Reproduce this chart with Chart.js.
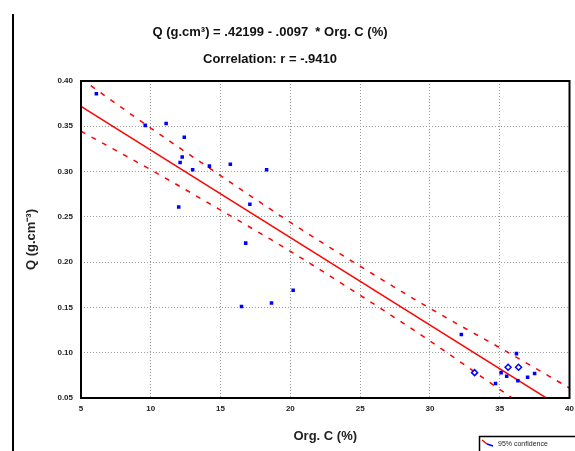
<!DOCTYPE html>
<html>
<head>
<meta charset="utf-8">
<script src="https://cdn.jsdelivr.net/npm/chart.js@4.4.0/dist/chart.umd.min.js"></script>
<style>
  html, body { margin: 0; padding: 0; background: #fff; }
  canvas { display: block; }
</style>
</head>
<body>
<canvas id="chart" width="575" height="451"></canvas>
<script>
// observed samples (Org. C %, Q g.cm-3)
const orgC = [6.1, 9.6, 11.1, 12.4, 12.25, 12.1, 13.0, 14.2, 15.7, 18.3, 12.0, 17.1, 16.8, 20.2, 16.5, 18.65,
    32.25, 36.2, 35.1, 35.5, 36.3, 37.0, 37.5, 34.7];
const qVals = [0.386, 0.351, 0.353, 0.338, 0.316, 0.310, 0.302, 0.306, 0.308, 0.302, 0.261, 0.264, 0.221, 0.169, 0.151, 0.155,
    0.120, 0.099, 0.078, 0.074, 0.069, 0.073, 0.077, 0.066];
// open markers
const hollowC = [33.2, 35.6, 36.35];
const hollowQ = [0.078, 0.084, 0.084];

// regression line  Q = .42199 - .0097 * C
const fitC = [5, 40];
const fitQ = [0.372, 0.034];

// 95% confidence band
const bandC = [5, 10, 15, 20, 25, 30, 35, 40];
const upperQ = [0.4025, 0.348, 0.2955, 0.244, 0.1955, 0.149, 0.1055, 0.061];
const lowerQ = [0.3445, 0.302, 0.2575, 0.212, 0.1635, 0.113, 0.0595, 0.007];

const titleLines = ['Q (g.cm\u00B3) = .42199 - .0097  * Org. C (%)', 'Correlation: r = -.9410'];
const legendText = '95% confidence';

const toXY = (xs, ys) => xs.map((x, i) => ({ x: x, y: ys[i] }));

const frame = {
    id: 'frame',
    afterDatasetsDraw(chart) {
        const { ctx, chartArea: a } = chart;
        ctx.save();
        ctx.strokeStyle = '#000';
        ctx.lineWidth = 2;
        ctx.strokeRect(a.left, a.top, a.right - a.left, a.bottom - a.top);
        ctx.restore();
    },
    afterDraw(chart) {
        const ctx = chart.ctx;
        ctx.save();
        // left page rule
        ctx.strokeStyle = '#000';
        ctx.lineWidth = 2;
        ctx.beginPath();
        ctx.moveTo(13, 14);
        ctx.lineTo(13, 451);
        ctx.stroke();

        // title
        ctx.fillStyle = '#111';
        ctx.font = 'bold 13px "Liberation Sans", Arial, sans-serif';
        ctx.textAlign = 'center';
        ctx.textBaseline = 'middle';
        ctx.fillText(titleLines[0], 270, 32);
        ctx.fillText(titleLines[1], 270, 59);

        // legend box (clipped at the page edge)
        ctx.lineWidth = 1.5;
        ctx.strokeRect(479.5, 436.5, 110, 20);
        ctx.strokeStyle = '#f00';
        ctx.lineWidth = 1.5;
        ctx.beginPath();
        ctx.moveTo(482, 440);
        ctx.lineTo(487, 444);
        ctx.stroke();
        ctx.strokeStyle = '#00f';
        ctx.beginPath();
        ctx.moveTo(487, 444);
        ctx.lineTo(493, 446);
        ctx.stroke();
        ctx.fillStyle = '#222';
        ctx.font = '7px "Liberation Sans", Arial, sans-serif';
        ctx.textAlign = 'left';
        ctx.fillText(legendText, 498, 444);
        ctx.restore();
    }
};

new Chart(document.getElementById('chart'), {
    type: 'scatter',
    data: {
        datasets: [
            {
                data: toXY(orgC, qVals),
                pointStyle: 'rect',
                pointRadius: 2.5,
                backgroundColor: '#0000ff',
                borderColor: '#0000ff',
                borderWidth: 0,
                order: 0
            },
            {
                data: toXY(hollowC, hollowQ),
                pointStyle: 'rectRot',
                pointRadius: 3,
                pointBackgroundColor: '#fff',
                pointBorderColor: '#0000ff',
                pointBorderWidth: 1.5,
                order: 0
            },
            {
                type: 'line',
                data: toXY(fitC, fitQ),
                borderColor: '#ff0000',
                borderWidth: 1.5,
                pointRadius: 0,
                order: 1
            },
            {
                type: 'line',
                data: toXY(bandC, upperQ),
                borderColor: '#ff0000',
                borderWidth: 1.5,
                borderDash: [5, 7],
                cubicInterpolationMode: 'monotone',
                pointRadius: 0,
                order: 1
            },
            {
                type: 'line',
                data: toXY(bandC, lowerQ),
                borderColor: '#ff0000',
                borderWidth: 1.5,
                borderDash: [5, 7],
                cubicInterpolationMode: 'monotone',
                pointRadius: 0,
                order: 1
            }
        ]
    },
    options: {
        responsive: false,
        animation: false,
        devicePixelRatio: 1,
        layout: {
            padding: { left: 0, right: 0, top: 81, bottom: 0 }
        },
        plugins: {
            legend: { display: false },
            tooltip: { enabled: false },
            title: { display: false }
        },
        scales: {
            x: {
                type: 'linear',
                min: 5,
                max: 40,
                afterFit: (scale) => { scale.height = 53; scale.paddingRight = 5; },
                ticks: {
                    stepSize: 5,
                    padding: 6,
                    color: '#222',
                    font: { size: 8, weight: 'bold', family: '"Liberation Sans", Arial, sans-serif' }
                },
                grid: { color: '#9a9a9a', drawTicks: false },
                border: { display: false, dash: [1, 2] },
                title: {
                    display: true,
                    text: 'Org. C (%)',
                    color: '#222',
                    font: { size: 13, weight: 'bold', family: '"Liberation Sans", Arial, sans-serif' },
                    padding: { top: 0, bottom: 7 }
                }
            },
            y: {
                type: 'linear',
                min: 0.05,
                max: 0.40,
                afterFit: (scale) => { scale.width = 81; },
                ticks: {
                    stepSize: 0.05,
                    padding: 8,
                    color: '#222',
                    font: { size: 8, weight: 'bold', family: '"Liberation Sans", Arial, sans-serif' },
                    callback: (v) => v.toFixed(2)
                },
                grid: { color: '#9a9a9a', drawTicks: false },
                border: { display: false, dash: [1, 2] },
                title: {
                    display: true,
                    text: 'Q (g.cm\u207B\u00B3)',
                    color: '#222',
                    font: { size: 13, weight: 'bold', family: '"Liberation Sans", Arial, sans-serif' },
                    padding: { top: 24, bottom: 0 }
                }
            }
        }
    },
    plugins: [frame]
});
</script>
</body>
</html>
